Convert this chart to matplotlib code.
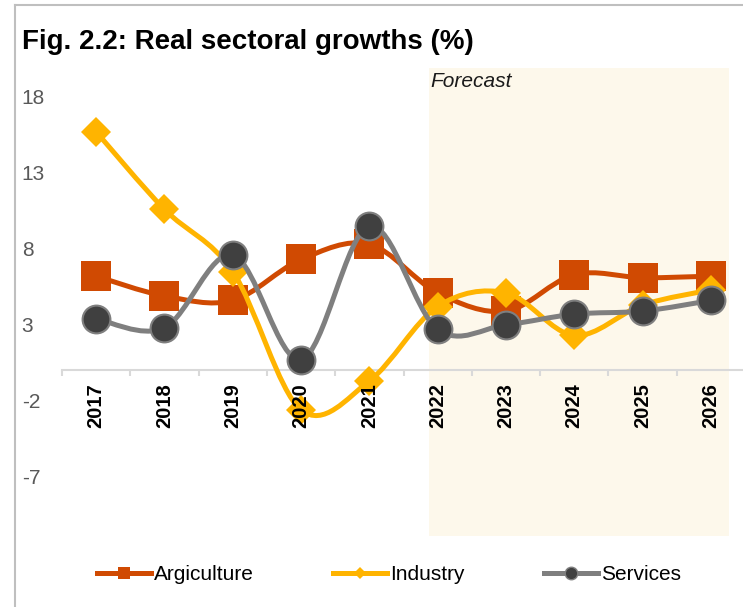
import numpy as np
import matplotlib
matplotlib.use("Agg")
import matplotlib.pyplot as plt
from matplotlib.path import Path
from matplotlib.patches import PathPatch
from matplotlib.lines import Line2D

plt.rcParams['font.family'] = ['Liberation Sans', 'DejaVu Sans']

years = ['2017', '2018', '2019', '2020', '2021', '2022', '2023', '2024', '2025', '2026']
agriculture = [6.2, 4.9, 4.6, 7.3, 8.3, 5.1, 3.9, 6.3, 6.1, 6.2]
industry = [15.7, 10.6, 6.5, -2.6, -0.7, 4.2, 5.1, 2.3, 4.3, 5.3]
services = [3.4, 2.8, 7.6, 0.7, 9.5, 2.7, 3.0, 3.7, 3.9, 4.6]
yticks = [-7, -2, 3, 8, 13, 18]
forecast_start = 5  # index of 2022

c_agr = '#D04A02'
c_ind = '#FFB400'
c_svc = '#7F7F7F'
c_svc_fill = '#404040'


def smooth_path(xs, ys):
    # Bezier segments like a spreadsheet "smoothed line"
    pts = np.column_stack([xs, ys]).astype(float)
    n = len(pts)
    verts = [pts[0]]
    codes = [Path.MOVETO]
    for i in range(n - 1):
        p0 = pts[i - 1] if i > 0 else pts[i]
        p1, p2 = pts[i], pts[i + 1]
        p3 = pts[i + 2] if i + 2 < n else pts[i + 1]
        verts += [p1 + (p2 - p0) / 6, p2 - (p3 - p1) / 6, p2]
        codes += [Path.CURVE4] * 3
    return Path(verts, codes)


fig = plt.figure(figsize=(7.43, 6.07), dpi=100)
ax = fig.add_axes([62 / 743, 71 / 607, 683 / 743, 468 / 607])
ax.set_xlim(-0.5, len(years) - 0.5)
ax.set_ylim(-10.9, 19.9)

x = np.arange(len(years))

# forecast band
ax.axvspan(forecast_start - 0.13, len(years) - 1 + 0.27, color='#FDF8EB', zorder=0, lw=0)
ax.text(forecast_start - 0.1, 19.0, 'Forecast', fontsize=15, style='italic',
        va='center', ha='left', color='#1a1a1a')

series = [
    (agriculture, c_agr, dict(marker='s', markersize=22, markerfacecolor=c_agr, markeredgecolor=c_agr, markeredgewidth=0)),
    (industry, c_ind, dict(marker='D', markersize=15, markerfacecolor=c_ind, markeredgecolor=c_ind, markeredgewidth=0)),
    (services, c_svc, dict(marker='o', markersize=20, markerfacecolor=c_svc_fill, markeredgecolor=c_svc, markeredgewidth=1.5)),
]
z = 3
for vals, col, mk in series:
    ax.add_patch(PathPatch(smooth_path(x, vals), fill=False, edgecolor=col, lw=3.6,
                           capstyle='round', joinstyle='round', zorder=z))
    ax.plot(x, vals, linestyle='none', zorder=z + 0.5, **mk)
    z += 1

# axes styling
for s in ['top', 'right', 'left']:
    ax.spines[s].set_visible(False)
ax.spines['bottom'].set_position(('data', 0))
ax.spines['bottom'].set_color('#D9D9D9')
ax.spines['bottom'].set_linewidth(1.5)
ax.spines['bottom'].set_zorder(2)

ax.set_xticks(x)
ax.set_xticklabels(years, rotation=90, fontsize=14.5, fontweight='bold')
ax.set_xticks(np.arange(-0.5, len(years), 1), minor=True)
ax.tick_params(axis='x', which='major', length=0, pad=9)
ax.tick_params(axis='x', which='minor', length=4, width=1.5, color='#D9D9D9')
# year labels sit above the lines
ax.xaxis.set_zorder(10)

ax.set_yticks(yticks)
ax.set_yticklabels([str(v) for v in yticks], fontsize=15, color='#595959', ha='left')
ax.tick_params(axis='y', length=0, pad=29)

fig.text(22 / 743, 1 - 42 / 607, 'Fig. 2.2: Real sectoral growths (%)', fontsize=20,
         fontweight='bold', va='center', ha='left')

# outer frame lines (top and left)
fig.add_artist(Line2D([15 / 743, 1], [1 - 5 / 607, 1 - 5 / 607], color='#BFBFBF', lw=1.5))
fig.add_artist(Line2D([15 / 743, 15 / 743], [0, 1 - 5 / 607], color='#BFBFBF', lw=1.5))

handles = [
    Line2D([], [], color=c_agr, lw=3.6, marker='s', markersize=9, markerfacecolor=c_agr, markeredgewidth=0),
    Line2D([], [], color=c_ind, lw=3.6, marker='D', markersize=6, markerfacecolor=c_ind, markeredgewidth=0),
    Line2D([], [], color=c_svc, lw=3.6, marker='o', markersize=9, markerfacecolor=c_svc_fill,
           markeredgecolor=c_svc, markeredgewidth=1),
]
fig.legend(handles, ['Argiculture', 'Industry', 'Services'], loc='center',
           bbox_to_anchor=(389 / 743, 1 - 575 / 607), ncol=3, frameon=False,
           fontsize=15, handlelength=2.6, handletextpad=0.15, columnspacing=3.8)

fig.savefig('out.png', dpi=100)
